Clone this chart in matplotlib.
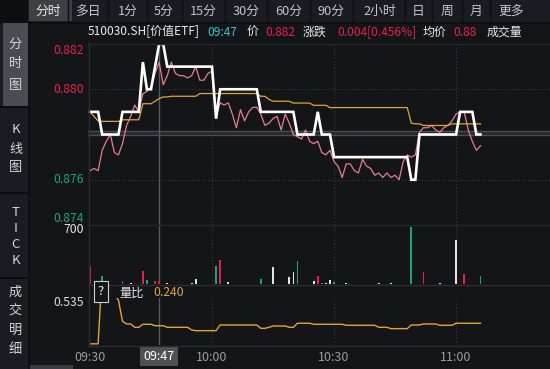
import matplotlib
matplotlib.use('Agg')
import matplotlib.pyplot as plt
from matplotlib.patches import Rectangle
from matplotlib.lines import Line2D
from matplotlib.transforms import blended_transform_factory

plt.rcParams['font.family'] = ['Noto Sans CJK SC', 'DejaVu Sans']

# ---------------- data ----------------
minutes = list(range(97))  # minutes after 09:30

price = [
    0.879, 0.879, 0.879, 0.878, 0.878, 0.878, 0.878, 0.878, 0.879, 0.879,
    0.879, 0.879, 0.879, 0.8812, 0.880, 0.880, 0.881, 0.882, 0.882, 0.881,
    0.881, 0.881, 0.881, 0.881, 0.881, 0.881, 0.881, 0.881, 0.881, 0.881,
    0.881, 0.8787, 0.880, 0.880, 0.880, 0.880, 0.880, 0.880, 0.880, 0.880,
    0.880, 0.880, 0.879, 0.879, 0.879, 0.879, 0.879, 0.879, 0.879, 0.879,
    0.879, 0.878, 0.878, 0.878, 0.878, 0.878, 0.879, 0.878, 0.878, 0.878,
    0.877, 0.877, 0.877, 0.877, 0.877, 0.877, 0.877, 0.877, 0.877, 0.877,
    0.877, 0.877, 0.877, 0.877, 0.877, 0.877, 0.877, 0.877, 0.877, 0.876,
    0.876, 0.878, 0.878, 0.878, 0.878, 0.878, 0.878, 0.878, 0.878, 0.878,
    0.878, 0.879, 0.879, 0.879, 0.879, 0.878, 0.878,
]

iopv = [
    0.8764, 0.8765, 0.8764, 0.8773, 0.8777, 0.8780, 0.8772, 0.8771, 0.8776, 0.8784,
    0.8788, 0.8793, 0.8790, 0.8798, 0.8799, 0.8801, 0.8807, 0.8812, 0.8802, 0.8806,
    0.8812, 0.8807, 0.8806, 0.8806, 0.8805, 0.8806, 0.8810, 0.8804, 0.8804, 0.8807,
    0.8808, 0.8788, 0.8794, 0.8793, 0.8794, 0.8789, 0.8783, 0.8791, 0.8786, 0.8790,
    0.8792, 0.8792, 0.8789, 0.8784, 0.8785, 0.8787, 0.8788, 0.8782, 0.8789, 0.8785,
    0.8780, 0.8779, 0.8778, 0.8782, 0.8777, 0.8776, 0.8777, 0.8772, 0.8771, 0.8773,
    0.8768, 0.8766, 0.8761, 0.8767, 0.8767, 0.8764, 0.8763, 0.8769, 0.8766, 0.8765,
    0.8762, 0.8763, 0.8761, 0.8763, 0.8761, 0.8762, 0.8760, 0.8768, 0.8771, 0.8770,
    0.8771, 0.8781, 0.8783, 0.8783, 0.8784, 0.8782, 0.8781, 0.8783, 0.8784, 0.8786,
    0.8789, 0.8790, 0.8790, 0.8782, 0.8777, 0.8773, 0.8775,
]

avg_price = [
    0.8790, 0.8788, 0.8786, 0.87858, 0.87858, 0.87858, 0.87858, 0.87858, 0.87865, 0.87865,
    0.87865, 0.87865, 0.87865, 0.87936, 0.87936, 0.87936, 0.87947, 0.87959, 0.87966, 0.87966,
    0.87969, 0.87969, 0.87969, 0.87969, 0.87969, 0.87969, 0.87969, 0.87981, 0.87981, 0.87981,
    0.87981, 0.87981, 0.87981, 0.87981, 0.87981, 0.87981, 0.87981, 0.87981, 0.87981, 0.87981,
    0.87981, 0.87981, 0.87969, 0.87969, 0.87955, 0.87947, 0.87947, 0.87947, 0.87947, 0.87947,
    0.87939, 0.87939, 0.87939, 0.87939, 0.87939, 0.87929, 0.87929, 0.87929, 0.87929, 0.87919,
    0.87919, 0.87919, 0.87919, 0.87919, 0.87919, 0.87919, 0.87919, 0.87919, 0.87919, 0.87919,
    0.87919, 0.87919, 0.87919, 0.87919, 0.87919, 0.87919, 0.87919, 0.87919, 0.87919, 0.8785,
    0.87847, 0.87847, 0.8784, 0.8784, 0.8784, 0.8784, 0.8784, 0.8784, 0.8784, 0.87847,
    0.87847, 0.87847, 0.87847, 0.87847, 0.87847, 0.87847, 0.87847,
]

vol_minutes = [0, 3, 8, 10, 13, 14, 16, 17, 19, 25, 26, 31, 32, 34, 42, 45, 49, 50, 51,
               55, 56, 57, 58, 59, 60, 63, 71, 74, 79, 82, 86, 90, 92, 96]
vol_values = [230, 102, 38, 17, 170, 51, 38, 38, 13, 17, 64, 230, 306, 25, 64, 221, 93, 149, 293,
              38, 102, 17, 17, 51, 25, 13, 13, 17, 730, 157, 17, 561, 128, 106]
vol_dir = ['r', 'g', 'r', 'w', 'r', 'g', 'r', 'r', 'w', 'w', 'w', 'g', 'r', 'w', 'g', 'w', 'w', 'w', 'g',
           'w', 'r', 'g', 'w', 'w', 'g', 'w', 'w', 'w', 'g', 'r', 'w', 'w', 'r', 'g']

vol_ratio = [
    0.011, 0.011, 0.011, 0.95, 0.85, 0.75, 0.65, 0.57, 0.30, 0.266,
    0.266, 0.223, 0.223, 0.262, 0.262, 0.262, 0.244, 0.244, 0.244, 0.223,
    0.223, 0.223, 0.223, 0.223, 0.223, 0.189, 0.180, 0.180, 0.180, 0.180,
    0.180, 0.180, 0.253, 0.253, 0.253, 0.253, 0.253, 0.253, 0.253, 0.253,
    0.253, 0.253, 0.210, 0.210, 0.223, 0.240, 0.240, 0.240, 0.240, 0.223,
    0.223, 0.275, 0.275, 0.275, 0.275, 0.262, 0.262, 0.262, 0.262, 0.262,
    0.262, 0.262, 0.262, 0.249, 0.249, 0.249, 0.249, 0.249, 0.249, 0.249,
    0.249, 0.223, 0.223, 0.223, 0.206, 0.206, 0.206, 0.206, 0.206, 0.253,
    0.253, 0.253, 0.266, 0.266, 0.266, 0.266, 0.249, 0.249, 0.249, 0.249,
    0.275, 0.275, 0.275, 0.275, 0.275, 0.275, 0.275,
]

prev_close = 0.878
price_ticks = [0.882, 0.880, 0.876, 0.874]
time_ticks = [0, 30, 60, 90]
time_labels = ['09:30', '10:00', '10:30', '11:00']
cursor_minute = 17
cursor_label = '09:47'
vol_tick = 700
ratio_tick = 0.535
ratio_now = '0.240'

top_tabs = ['分时', '多日', '1分', '5分', '15分', '30分', '60分', '90分', '2小时', '日', '周', '月', '更多']
side_tabs = ['分时图', 'K线图', 'TICK', '成交明细']

# ---------------- styling ----------------
W, H = 550, 369
BG = '#131519'
PANEL = '#1b1c21'
GRID = '#3a3d43'
RED = '#e5204c'
GREEN = '#1aa37c'
ORANGE = '#e3a436'
PINK = '#e87c8c'
TXT = '#c4c5c9'
DIM = '#9a9ca1'


def frect(x0, y0, x1, y1):
    return [x0 / W, 1 - y1 / H, (x1 - x0) / W, (y1 - y0) / H]


def fx(x):
    return x / W


def fy(y):
    return 1 - y / H


fig = plt.figure(figsize=(W / 100, H / 100), dpi=100, facecolor=BG)


def box(x0, y0, x1, y1, color, z=0):
    fig.add_artist(Rectangle((fx(x0), fy(y1)), (x1 - x0) / W, (y1 - y0) / H,
                             transform=fig.transFigure, facecolor=color, edgecolor='none', zorder=z))


def hline(y, x0, x1, color, lw=1.0, z=1):
    fig.add_artist(Line2D([fx(x0), fx(x1)], [fy(y), fy(y)], transform=fig.transFigure,
                          color=color, lw=lw, zorder=z))


def vline(x, y0, y1, color, lw=1.0, z=1):
    fig.add_artist(Line2D([fx(x), fx(x)], [fy(y0), fy(y1)], transform=fig.transFigure,
                          color=color, lw=lw, zorder=z))


# frame: top bar & sidebar
box(0, 0, 28, 22, '#0e0f12')
box(28, 0, 550, 22, PANEL)
box(29, 0, 72, 21, '#3f4046', z=1)
hline(22.5, 0, 550, '#0c0d10', lw=1.2)
tab_x = [48, 88, 128, 164, 203, 246, 289, 331, 380, 418, 447, 476, 511]
sep_x = [68, 108, 147, 182, 225, 267, 310, 353, 405, 432, 462, 490]
for sx in sep_x:
    vline(sx, 0, 22, '#0e0f12', lw=1.0, z=2)
for i, (t, x) in enumerate(zip(top_tabs, tab_x)):
    fig.text(fx(x), fy(11), t, ha='center', va='center', fontsize=9.2,
             color='#e6e6e6' if i == 0 else TXT, zorder=3)

box(0, 23, 28, 369, PANEL)
box(3, 23, 28, 106, '#4b4c52', z=1)
vline(28.5, 23, 369, '#0c0d10', lw=1.0)
for sy in [107, 193, 278]:
    hline(sy, 0, 28, '#0c0d10', lw=1.5, z=2)
side_pos = [[44, 64, 85], [130, 149, 168], [212, 228, 244, 260], [292, 311, 330, 349]]
for tab, ys in zip(side_tabs, side_pos):
    for ch, yy in zip(tab, ys):
        fig.text(fx(15.5), fy(yy), ch, ha='center', va='center', fontsize=9.5,
                 color='#d6d6d8', zorder=3)

# scrollbar
box(30, 365, 73, 369, '#3a3b40', z=1)

# info line
info = [('510030.SH[价值ETF]', 88, '#e8e8e8'), ('09:47', 207, '#3cc3c9'), ('价', 247, '#e8e8e8'),
        ('0.882', 265, RED), ('涨跌', 303, '#e8e8e8'), ('0.004[0.456%]', 337, RED),
        ('均价', 423, '#e8e8e8'), ('0.88', 453, RED), ('成交量', 487, '#e8e8e8')]
for t, x, c in info:
    fig.text(fx(x), fy(32), t, ha='left', va='center', fontsize=8.6, color=c)

# ---------------- axes ----------------
X0, X1 = -0.49, 113.1
ax_p = fig.add_axes(frect(88, 44, 550, 225))
ax_v = fig.add_axes(frect(88, 226, 550, 284))
ax_r = fig.add_axes(frect(88, 298, 550, 345))

for a in (ax_p, ax_v, ax_r):
    a.set_facecolor('none')
    a.set_xlim(X0, X1)
    for s in a.spines.values():
        s.set_visible(False)
    a.set_xticks([])
    a.set_yticks([])
    for tm in time_ticks[1:]:
        a.axvline(tm, color=GRID, lw=0.8, ls=(0, (1, 2)), zorder=0)
    a.axvline(cursor_minute, color='#55585e', lw=1.0, zorder=1)

# frame lines
vline(88.5, 43, 345, '#2c2e33', lw=1.0)
hline(43.5, 88, 550, '#25272c', lw=1.0)
hline(225, 88, 550, '#25272c', lw=1.0)
hline(284.5, 88, 550, '#2c2e33', lw=1.0)
hline(345.5, 88, 550, '#2c2e33', lw=1.0)

# price panel
ax_p.set_ylim(0.874, 0.882)
for g in [0.880, 0.876]:
    ax_p.axhline(g, color=GRID, lw=0.8, ls=(0, (1, 2)), zorder=0)
ax_p.axhspan(prev_close, prev_close + 0.00016, color='#25272c', lw=0, zorder=0.5)
ax_p.axhline(prev_close, color='#4a4d53', lw=1.0, zorder=0.6)
ax_p.axhline(prev_close + 0.00016, color='#4a4d53', lw=1.0, zorder=0.6)
ax_p.plot(minutes, iopv, color=PINK, lw=0.9, zorder=2)
ax_p.plot(minutes, avg_price, color=ORANGE, lw=0.9, zorder=3)
ax_p.plot(minutes, price, color='white', lw=1.9, zorder=4, solid_joinstyle='miter')

ytr = ax_p.get_yaxis_transform()
for v in price_ticks:
    col = RED if v > prev_close else GREEN
    va = 'center'
    if v == price_ticks[0]:
        va = 'top'
    if v == price_ticks[-1]:
        va = 'bottom'
    ax_p.text(-0.008, v, f'{v:.3f}', transform=ytr, ha='right', va=va, fontsize=8.8,
              color=col, clip_on=False)

# volume panel
ax_v.set_ylim(0, 740)
colmap = {'r': RED, 'g': GREEN, 'w': '#e4e4e4'}
ax_v.bar(vol_minutes, vol_values, width=0.42, color=[colmap[d] for d in vol_dir], zorder=2)
ax_v.text(-0.008, vol_tick, f'{vol_tick}', transform=ax_v.get_yaxis_transform(), ha='right',
          va='center', fontsize=8.8, color='#e6e6e6', clip_on=False)

# volume ratio panel
ax_r.set_ylim(-0.004, 0.599)
ax_r.plot(minutes, vol_ratio, color=ORANGE, lw=1.0, zorder=2)
ax_r.text(-0.008, ratio_tick, f'{ratio_tick:.3f}', transform=ax_r.get_yaxis_transform(),
          ha='right', va='center', fontsize=8.8, color='#dcdcdc', clip_on=False)
ax_r.set_xticks(time_ticks)
ax_r.set_xticklabels(time_labels)
ax_r.tick_params(axis='x', length=0, pad=4.5, labelsize=9, labelcolor=DIM)
ax_r.text(cursor_minute, fy(356), cursor_label,
          transform=blended_transform_factory(ax_r.transData, fig.transFigure),
          ha='center', va='center', fontsize=9, color='white',
          bbox=dict(boxstyle='square,pad=0.3', facecolor='#4f5157', edgecolor='none'),
          clip_on=False, zorder=5)

# ratio label overlay
fig.text(fx(101), fy(291.5), '?', ha='center', va='center', fontsize=9.5, color='#e6e6e6',
         bbox=dict(boxstyle='square,pad=0.32', facecolor=BG, edgecolor='#d0d0d0', lw=0.8))
fig.text(fx(119), fy(293), '量比', ha='left', va='center', fontsize=8.8, color='#e6e6e6')
fig.text(fx(153), fy(293), ratio_now, ha='left', va='center', fontsize=8.8, color=ORANGE)

fig.savefig('out.png', dpi=100, facecolor=BG)
